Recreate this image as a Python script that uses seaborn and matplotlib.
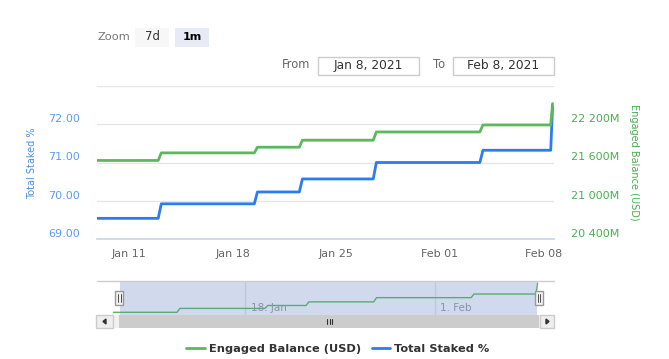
import pandas as pd
import matplotlib
matplotlib.use("Agg")
import matplotlib.pyplot as plt
import matplotlib.dates as mdates
from matplotlib.patches import Rectangle, Polygon
from matplotlib.lines import Line2D
from matplotlib.ticker import FuncFormatter
import seaborn as sns

# data (points at each plateau start / end)
times = [
    "2021-01-08 06:00", "2021-01-12 23:00", "2021-01-13 04:00",
    "2021-01-19 11:00", "2021-01-19 16:00", "2021-01-22 12:00",
    "2021-01-22 17:00", "2021-01-27 12:00", "2021-01-27 17:00",
    "2021-02-03 17:00", "2021-02-03 22:00", "2021-02-08 12:00",
    "2021-02-08 15:00",
]
total_staked = [69.54, 69.54, 69.92, 69.92, 70.23, 70.23, 70.57,
                70.57, 71.00, 71.00, 71.32, 71.32, 72.45]
engaged_balance = [21632, 21632, 21751, 21751, 21840, 21840, 21950,
                   21950, 22079, 22079, 22189, 22189, 22524]  # millions USD

left_ticks = [69, 70, 71, 72]
right_ticks = [20400, 21000, 21600, 22200]
x_ticks = ["2021-01-11", "2021-01-18", "2021-01-25", "2021-02-01", "2021-02-08"]
nav_ticks = ["2021-01-18", "2021-02-01"]
nav_labels = ["18. Jan", "1. Feb"]

df = pd.DataFrame({
    "time": pd.to_datetime(times),
    "Total Staked %": total_staked,
    "Engaged Balance (USD)": engaged_balance,
})

GREEN = "#5cb85c"
BLUE = "#2b7cf2"
W, H = 669, 359

sns.set_theme(style="white")
plt.rcParams["font.family"] = ["DejaVu Sans"]

fig = plt.figure(figsize=(W / 100, H / 100), dpi=100)


def fx(x):
    return x / W


def fy(y):
    return 1 - y / H


def box(x0, y0, x1, y1, **kw):
    fig.patches.append(Rectangle((fx(x0), fy(y1)), fx(x1) - fx(x0), fy(y0) - fy(y1),
                                 transform=fig.transFigure, **kw))


def hline(x0, x1, y, **kw):
    fig.lines.append(Line2D([fx(x0), fx(x1)], [fy(y), fy(y)], transform=fig.transFigure, **kw))


def vline(x, y0, y1, **kw):
    fig.lines.append(Line2D([fx(x), fx(x)], [fy(y0), fy(y1)], transform=fig.transFigure, **kw))


# main chart
ax = fig.add_axes([fx(97), fy(239), fx(554) - fx(97), fy(86) - fy(239)])
ax2 = ax.twinx()

sns.lineplot(data=df, x="time", y="Total Staked %", ax=ax, color=BLUE, linewidth=2)
sns.lineplot(data=df, x="time", y="Engaged Balance (USD)", ax=ax2, color=GREEN, linewidth=2)

ax.set_xlim(mdates.date2num(pd.Timestamp("2021-01-08 19:40")),
            mdates.date2num(pd.Timestamp("2021-02-08 17:20")))
ax.set_ylim(69, 73)
ax2.set_ylim(20400, 22800)
ax.set_yticks(left_ticks)
ax2.set_yticks(right_ticks)
ax.yaxis.set_major_formatter(FuncFormatter(lambda v, p: f"{v:.2f}"))
ax2.yaxis.set_major_formatter(FuncFormatter(lambda v, p: f"{v:,.0f}".replace(",", " ") + "M"))
ax.set_xticks(mdates.date2num(pd.to_datetime(x_ticks)))
ax.xaxis.set_major_formatter(mdates.DateFormatter("%b %d"))

for a in (ax, ax2):
    for s in a.spines.values():
        s.set_visible(False)
ax.spines["bottom"].set_visible(True)
ax.spines["bottom"].set_color("#ccd6eb")

for y in [69, 70, 71, 72, 73]:
    ax.axhline(y, color="#e6e6e6", linewidth=1, zorder=0)

ax.tick_params(axis="x", colors="#ccd6eb", length=6, width=1, pad=1,
               labelsize=8, labelcolor="#666666")
ax.tick_params(axis="y", length=0, pad=12, labelsize=8, labelcolor="#5b9cf2")
ax2.tick_params(axis="y", length=0, pad=12, labelsize=8, labelcolor="#4caf50")
for t in ax.get_yticklabels() + ax2.get_yticklabels():
    t.set_va("bottom")

ax.set_xlabel("")
ax.set_ylabel("")
ax2.set_ylabel("")
fig.text(fx(32), fy(163), "Total Staked %", rotation=90, ha="center", va="center",
         fontsize=7, color="#4a90e2")
fig.text(fx(634), fy(162), "Engaged Balance (USD)", rotation=270, ha="center", va="center",
         fontsize=7, color="#4caf50")

# navigator
nav = fig.add_axes([fx(97), fy(315), fx(554) - fx(97), fy(281) - fy(315)])
sns.lineplot(data=df, x="time", y="Engaged Balance (USD)", ax=nav, color=GREEN, linewidth=1)
nav.set_xlim(mdates.date2num(pd.Timestamp("2021-01-07 01:00")),
             mdates.date2num(pd.Timestamp("2021-02-09 20:00")))
nav.set_ylim(21550, 22586)
nav.set_xticks([])
nav.set_yticks([])
nav.set_xlabel("")
nav.set_ylabel("")
for s in nav.spines.values():
    s.set_visible(False)
for d, lab in zip(nav_ticks, nav_labels):
    xd = mdates.date2num(pd.Timestamp(d))
    nav.axvline(xd, color="#e6e6e6", linewidth=1, zorder=0)
    nav.annotate(lab, (xd, 0), xycoords=("data", "axes fraction"), xytext=(4, 3),
                 textcoords="offset points", fontsize=7.5, color="#999999", zorder=1)
nav.axvspan(mdates.date2num(pd.Timestamp("2021-01-08 17:00")),
            mdates.date2num(pd.Timestamp("2021-02-08 14:30")),
            color=(102 / 255, 133 / 255, 194 / 255), alpha=0.3, lw=0, zorder=5)
hline(97, 554, 281, color="#cccccc", linewidth=1)

# handles
for hx in (119.3, 539):
    box(hx - 4, 291, hx + 4, 305, facecolor="#f2f2f2", edgecolor="#999999", linewidth=1)
    vline(hx - 1.2, 294, 302, color="#333333", linewidth=0.6)
    vline(hx + 1.2, 294, 302, color="#333333", linewidth=0.6)

# scrollbar
box(96, 315, 554, 328, facecolor="#f2f2f2", edgecolor="#f2f2f2", linewidth=0)
box(119.3, 315, 539, 328, facecolor="#cccccc", edgecolor="#cccccc", linewidth=0)
box(96, 315, 113, 328, facecolor="#eeeeee", edgecolor="#cccccc", linewidth=1)
box(540, 315, 554, 328, facecolor="#eeeeee", edgecolor="#cccccc", linewidth=1)
fig.patches.append(Polygon([(fx(103), fy(321.5)), (fx(106), fy(319)), (fx(106), fy(324))],
                           closed=True, transform=fig.transFigure, color="#333333"))
fig.patches.append(Polygon([(fx(549), fy(321.5)), (fx(546), fy(319)), (fx(546), fy(324))],
                           closed=True, transform=fig.transFigure, color="#333333"))
for rx in (327, 329.5, 332):
    vline(rx, 319, 324, color="#333333", linewidth=0.8)

# legend
handles = [Line2D([], [], color=GREEN, linewidth=2), Line2D([], [], color=BLUE, linewidth=2)]
leg = fig.legend(handles, ["Engaged Balance (USD)", "Total Staked %"], loc="center",
                 bbox_to_anchor=(fx(338), fy(349)), ncol=2, frameon=False,
                 handlelength=1.6, handletextpad=0.35, columnspacing=1.0,
                 prop={"weight": "bold", "size": 8.2}, borderpad=0, borderaxespad=0)
for t in leg.get_texts():
    t.set_color("#333333")

# range selector
fig.text(fx(97), fy(37), "Zoom", ha="left", va="center", fontsize=8.2, color="#777777")
box(135, 28, 169, 46.5, facecolor="#f7f7f7", edgecolor="none")
fig.text(fx(152), fy(37), "7d", ha="center", va="center", fontsize=8.5, color="#333333")
box(175, 28, 209, 46.5, facecolor="#e6ebf5", edgecolor="none")
fig.text(fx(192), fy(37), "1m", ha="center", va="center", fontsize=8, color="#000000",
         weight="bold")

fig.text(fx(282), fy(65), "From", ha="left", va="center", fontsize=8.3, color="#666666")
box(318, 56.5, 419, 75, facecolor="white", edgecolor="#cccccc", linewidth=1)
fig.text(fx(368.5), fy(65.5), "Jan 8, 2021", ha="center", va="center", fontsize=8.8,
         color="#333333")
fig.text(fx(433), fy(65), "To", ha="left", va="center", fontsize=8.3, color="#666666")
box(453, 56.5, 554, 75, facecolor="white", edgecolor="#cccccc", linewidth=1)
fig.text(fx(503.5), fy(65.5), "Feb 8, 2021", ha="center", va="center", fontsize=8.8,
         color="#333333")

fig.savefig("out.png", dpi=100)
